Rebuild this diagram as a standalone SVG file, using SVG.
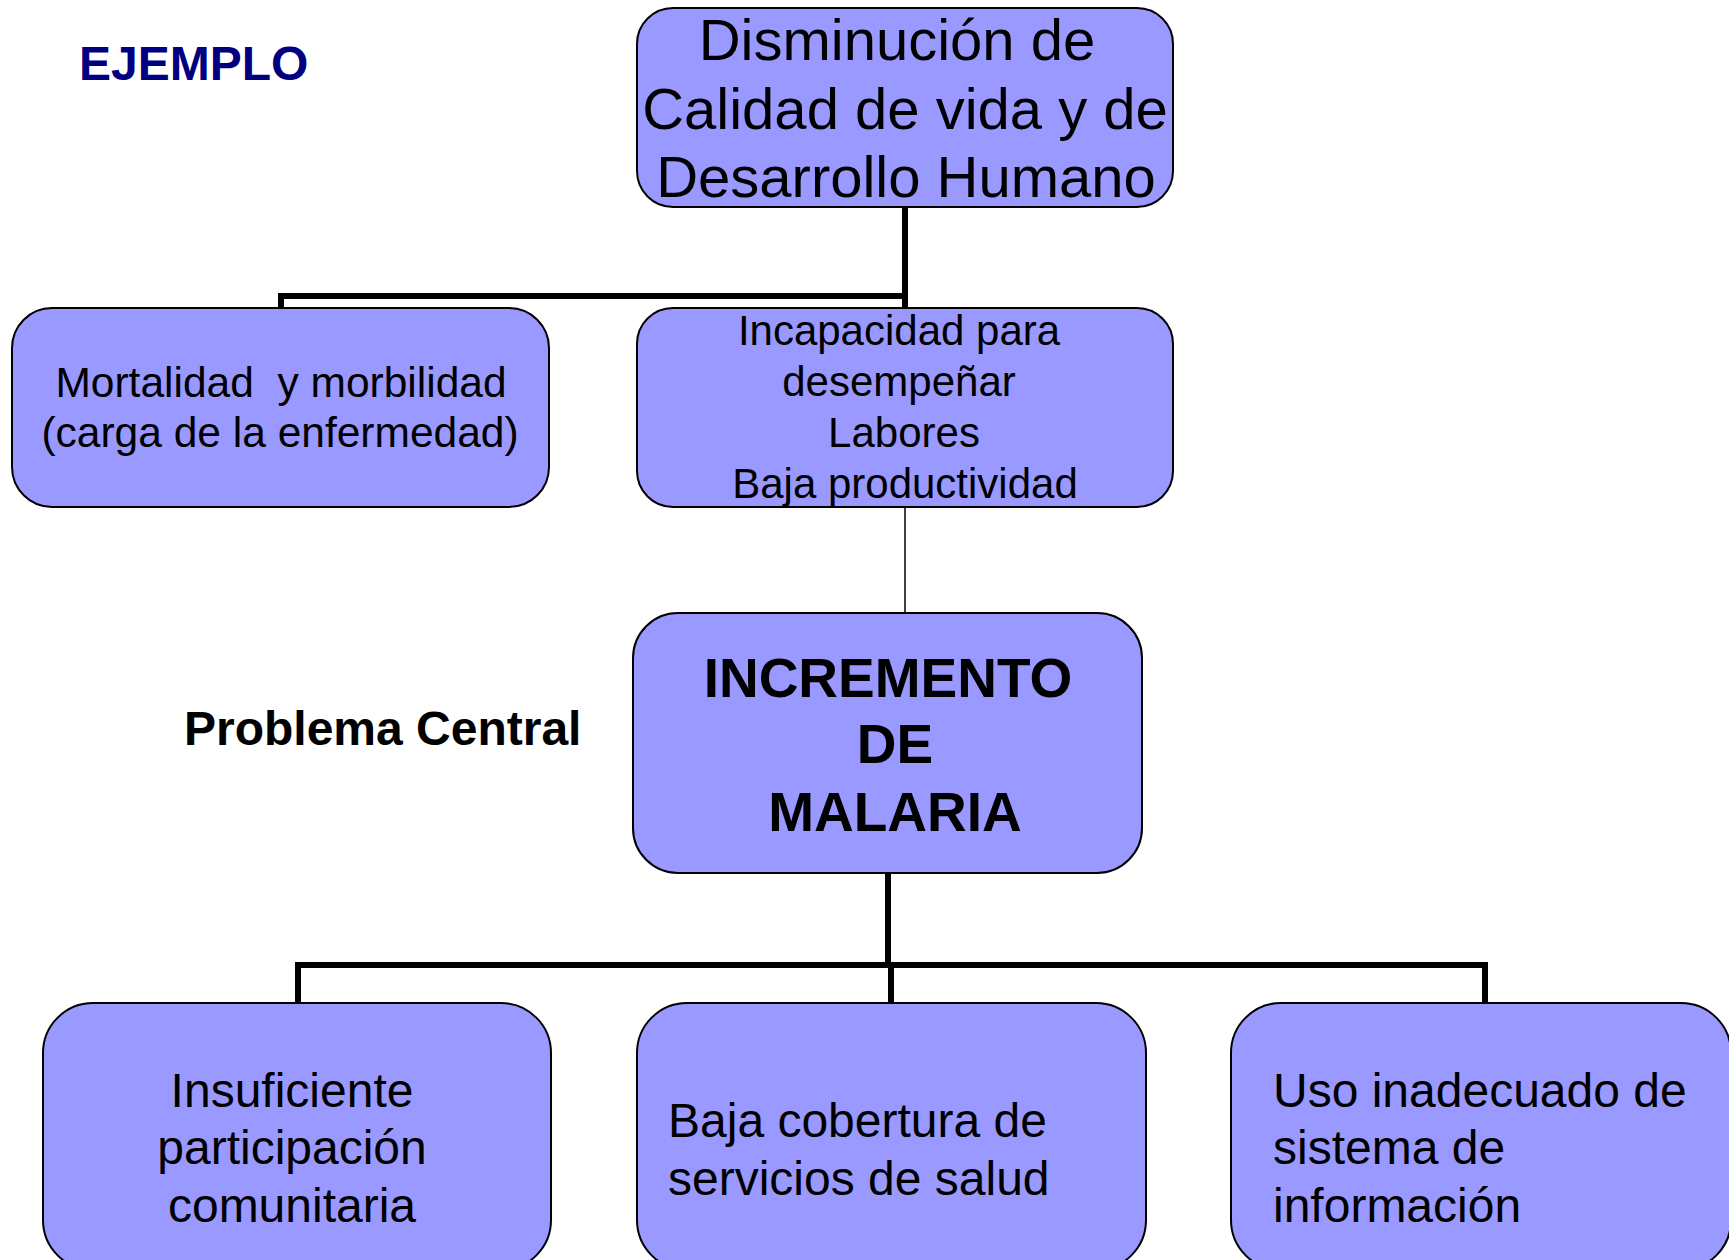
<svg xmlns="http://www.w3.org/2000/svg" width="1729" height="1260" viewBox="0 0 1729 1260">
<style>
.box{fill:#9999FF;stroke:#000;stroke-width:2}
.t{font-family:"Liberation Sans",Arial,sans-serif;fill:#000}
.c{text-anchor:middle}
.b{font-weight:bold}
.thick{stroke:#000;stroke-width:6;fill:none}
.thin{stroke:#000;stroke-width:1.5;fill:none}
</style>
<rect width="1729" height="1260" fill="#fff"/>
<g id="connectors">
<path class="thick" d="M905,207 V308 M905,296 H281 V308"/>
<path class="thin" d="M905,507 V613"/>
<path class="thick" d="M888,873 V965 M298,1003 V965 H1485 V1003 M891,965 V1003"/>
</g>
<g id="label-ejemplo"><text class="t b" x="79" y="80" font-size="48" style="fill:#000080">EJEMPLO</text></g>
<g id="label-problema"><text class="t b" x="184" y="745" font-size="48">Problema Central</text></g>
<g id="node-disminucion">
<rect class="box" x="637" y="8" width="536" height="199" rx="36"/>
<text class="t c" font-size="58"><tspan x="897" y="60">Disminución de</tspan><tspan x="905" y="128.5">Calidad de vida y de</tspan><tspan x="906" y="197">Desarrollo Humano</tspan></text>
</g>
<g id="node-mortalidad">
<rect class="box" x="12" y="308" width="537" height="199" rx="40"/>
<text class="t c" font-size="42.5" style="white-space:pre"><tspan x="281" y="397">Mortalidad  y morbilidad</tspan><tspan x="280" y="447">(carga de la enfermedad)</tspan></text>
</g>
<g id="node-incapacidad">
<rect class="box" x="637" y="308" width="536" height="199" rx="36"/>
<text class="t c" font-size="42"><tspan x="899" y="345">Incapacidad para</tspan><tspan x="899" y="396">desempeñar</tspan><tspan x="904" y="447">Labores</tspan><tspan x="905" y="498">Baja productividad</tspan></text>
</g>
<g id="node-incremento">
<rect class="box" x="633" y="613" width="509" height="260" rx="45"/>
<text class="t c b" font-size="55"><tspan x="888" y="697">INCREMENTO</tspan><tspan x="895" y="763">DE</tspan><tspan x="895" y="831">MALARIA</tspan></text>
</g>
<g id="node-insuficiente">
<rect class="box" x="43" y="1003" width="508" height="267" rx="50"/>
<text class="t c" font-size="48"><tspan x="292" y="1107">Insuficiente</tspan><tspan x="292" y="1164">participación</tspan><tspan x="292" y="1222">comunitaria</tspan></text>
</g>
<g id="node-cobertura">
<rect class="box" x="637" y="1003" width="509" height="267" rx="50"/>
<text class="t" font-size="48"><tspan x="668" y="1137">Baja cobertura de</tspan><tspan x="668" y="1195">servicios de salud</tspan></text>
</g>
<g id="node-informacion">
<rect class="box" x="1231" y="1003" width="500" height="267" rx="50"/>
<text class="t" font-size="48"><tspan x="1273" y="1107">Uso inadecuado de</tspan><tspan x="1273" y="1164">sistema de</tspan><tspan x="1273" y="1222">información</tspan></text>
</g>
</svg>
